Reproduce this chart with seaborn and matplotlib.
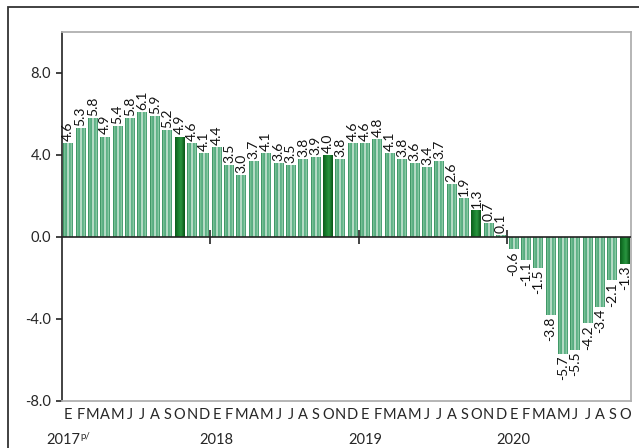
import numpy as np
import pandas as pd
import matplotlib
matplotlib.use('Agg')
import matplotlib.pyplot as plt
import seaborn as sns
from matplotlib.colors import LinearSegmentedColormap
from matplotlib.patches import Rectangle

sns.set_style("white")
plt.rcParams['font.family'] = ['Lato', 'DejaVu Sans']

# Datos: variacion anual (%) mensual, ene 2017 - oct 2020
meses = ['E', 'F', 'M', 'A', 'M', 'J', 'J', 'A', 'S', 'O', 'N', 'D']
anios = ['2017', '2018', '2019', '2020']
valores_2017 = [4.6, 5.3, 5.8, 4.9, 5.4, 5.8, 6.1, 5.9, 5.2, 4.9, 4.6, 4.1]
valores_2018 = [4.4, 3.5, 3.0, 3.7, 4.1, 3.6, 3.5, 3.8, 3.9, 4.0, 3.8, 4.6]
valores_2019 = [4.6, 4.8, 4.1, 3.8, 3.6, 3.4, 3.7, 2.6, 1.9, 1.3, 0.7, 0.1]
valores_2020 = [-0.6, -1.1, -1.5, -3.8, -5.7, -5.5, -4.2, -3.4, -2.1, -1.3]

valores = valores_2017 + valores_2018 + valores_2019 + valores_2020
etiquetas_mes = (meses * 4)[:len(valores)]
df = pd.DataFrame({
    'pos': range(len(valores)),
    'valor': valores,
    'mes': etiquetas_mes,
})
# octubre de cada anio va en verde oscuro
df['tipo'] = np.where((df['pos'] % 12) == 9, 'oct', 'normal')

fig = plt.figure(figsize=(6.39, 4.48), dpi=100)
ax = fig.add_axes([62 / 639, 1 - 401 / 448, (631 - 62) / 639, (401 - 32) / 448])

sns.barplot(data=df, x='pos', y='valor', hue='tipo',
            palette={'normal': '#3d9970', 'oct': '#0a6a1e'},
            dodge=False, width=0.8, legend=False, ax=ax, saturation=1)

# gradiente tipo cilindro
cmap_claro = LinearSegmentedColormap.from_list('claro', [
    (0.0, '#23844f'), (0.17, '#8fd0a8'), (0.32, '#2f9663'),
    (0.5, '#eef8ef'), (0.68, '#3a9f6c'), (0.85, '#a3d9b6'), (1.0, '#27895a')])
cmap_oscuro = LinearSegmentedColormap.from_list('oscuro', [
    (0.0, '#0b5e1c'), (0.45, '#1f8a35'), (0.6, '#2a9440'), (1.0, '#075416')])
grad = np.linspace(0, 1, 64).reshape(1, -1)

ax.set_xlim(-0.5, len(valores) - 0.5)
ax.set_ylim(-8, 10)
for p in list(ax.patches):
    x0, w = p.get_x(), p.get_width()
    y0, h = p.get_y(), p.get_height()
    if w == 0 or h == 0:
        continue
    fc = p.get_facecolor()
    cm = cmap_oscuro if fc[1] < 0.5 else cmap_claro
    im = ax.imshow(grad, cmap=cm, aspect='auto', interpolation='bilinear',
                   extent=[x0, x0 + w, min(y0, y0 + h), max(y0, y0 + h)], zorder=2)
    im.set_clip_path(p)
    p.set_facecolor('none')
    p.set_edgecolor('none')
ax.set_xlim(-0.5, len(valores) - 0.5)
ax.set_ylim(-8, 10)

# etiquetas de valores
for i, v in enumerate(valores):
    if v >= 0:
        ax.annotate(f'{v:.1f}', (i, v), xytext=(0, 1.5), textcoords='offset points',
                    rotation=90, ha='center', va='bottom', fontsize=10,
                    color='#111111')
    else:
        ax.annotate(f'{v:.1f}', (i, v), xytext=(0, -1.5), textcoords='offset points',
                    rotation=90, ha='center', va='top', fontsize=10,
                    color='#111111')

# linea de cero y separadores de anio
ax.axhline(0, color='#222222', lw=1.2, zorder=3)
separadores = [12 * k - 0.5 for k in range(1, len(anios))]
ax.plot(separadores, [0] * len(separadores), ls='none', marker='|',
        markersize=10, mew=1.2, color='#222222', zorder=1.5)

# ejes
ax.set_xticks(range(len(valores)))
ax.set_xticklabels(etiquetas_mes, fontsize=10.5)
ax.tick_params(axis='x', length=0, pad=5)
ax.set_yticks([-8, -4, 0, 4, 8])
ax.set_yticklabels([f'{t:.1f}' for t in [-8, -4, 0, 4, 8]], fontsize=10.5)
ax.tick_params(axis='y', left=True, length=4, width=1.2, color='#222222', pad=4)
ax.set_xlabel('')
ax.set_ylabel('')
for s in ['top', 'right', 'bottom']:
    ax.spines[s].set_color('#b0b0b0')
    ax.spines[s].set_linewidth(1.3)
ax.spines['left'].set_color('#222222')
ax.spines['left'].set_linewidth(1.2)

# anios
for k, a in enumerate(anios):
    xa = 12 * k - 0.4 if k == 0 else 12 * k
    ax.text(xa, -0.105, a, transform=ax.get_xaxis_transform(),
            ha='center', va='center', fontsize=10.5)
ax.text(0.95, -0.095, 'p/', transform=ax.get_xaxis_transform(),
        ha='left', va='center', fontsize=7)

# marco exterior
fig.patches.append(Rectangle((8 / 639, -0.2), 1.2, 1 - 7 / 448 + 0.2,
                             transform=fig.transFigure, fill=False,
                             edgecolor='#333333', lw=1.3))

fig.savefig('out.png', dpi=100)
